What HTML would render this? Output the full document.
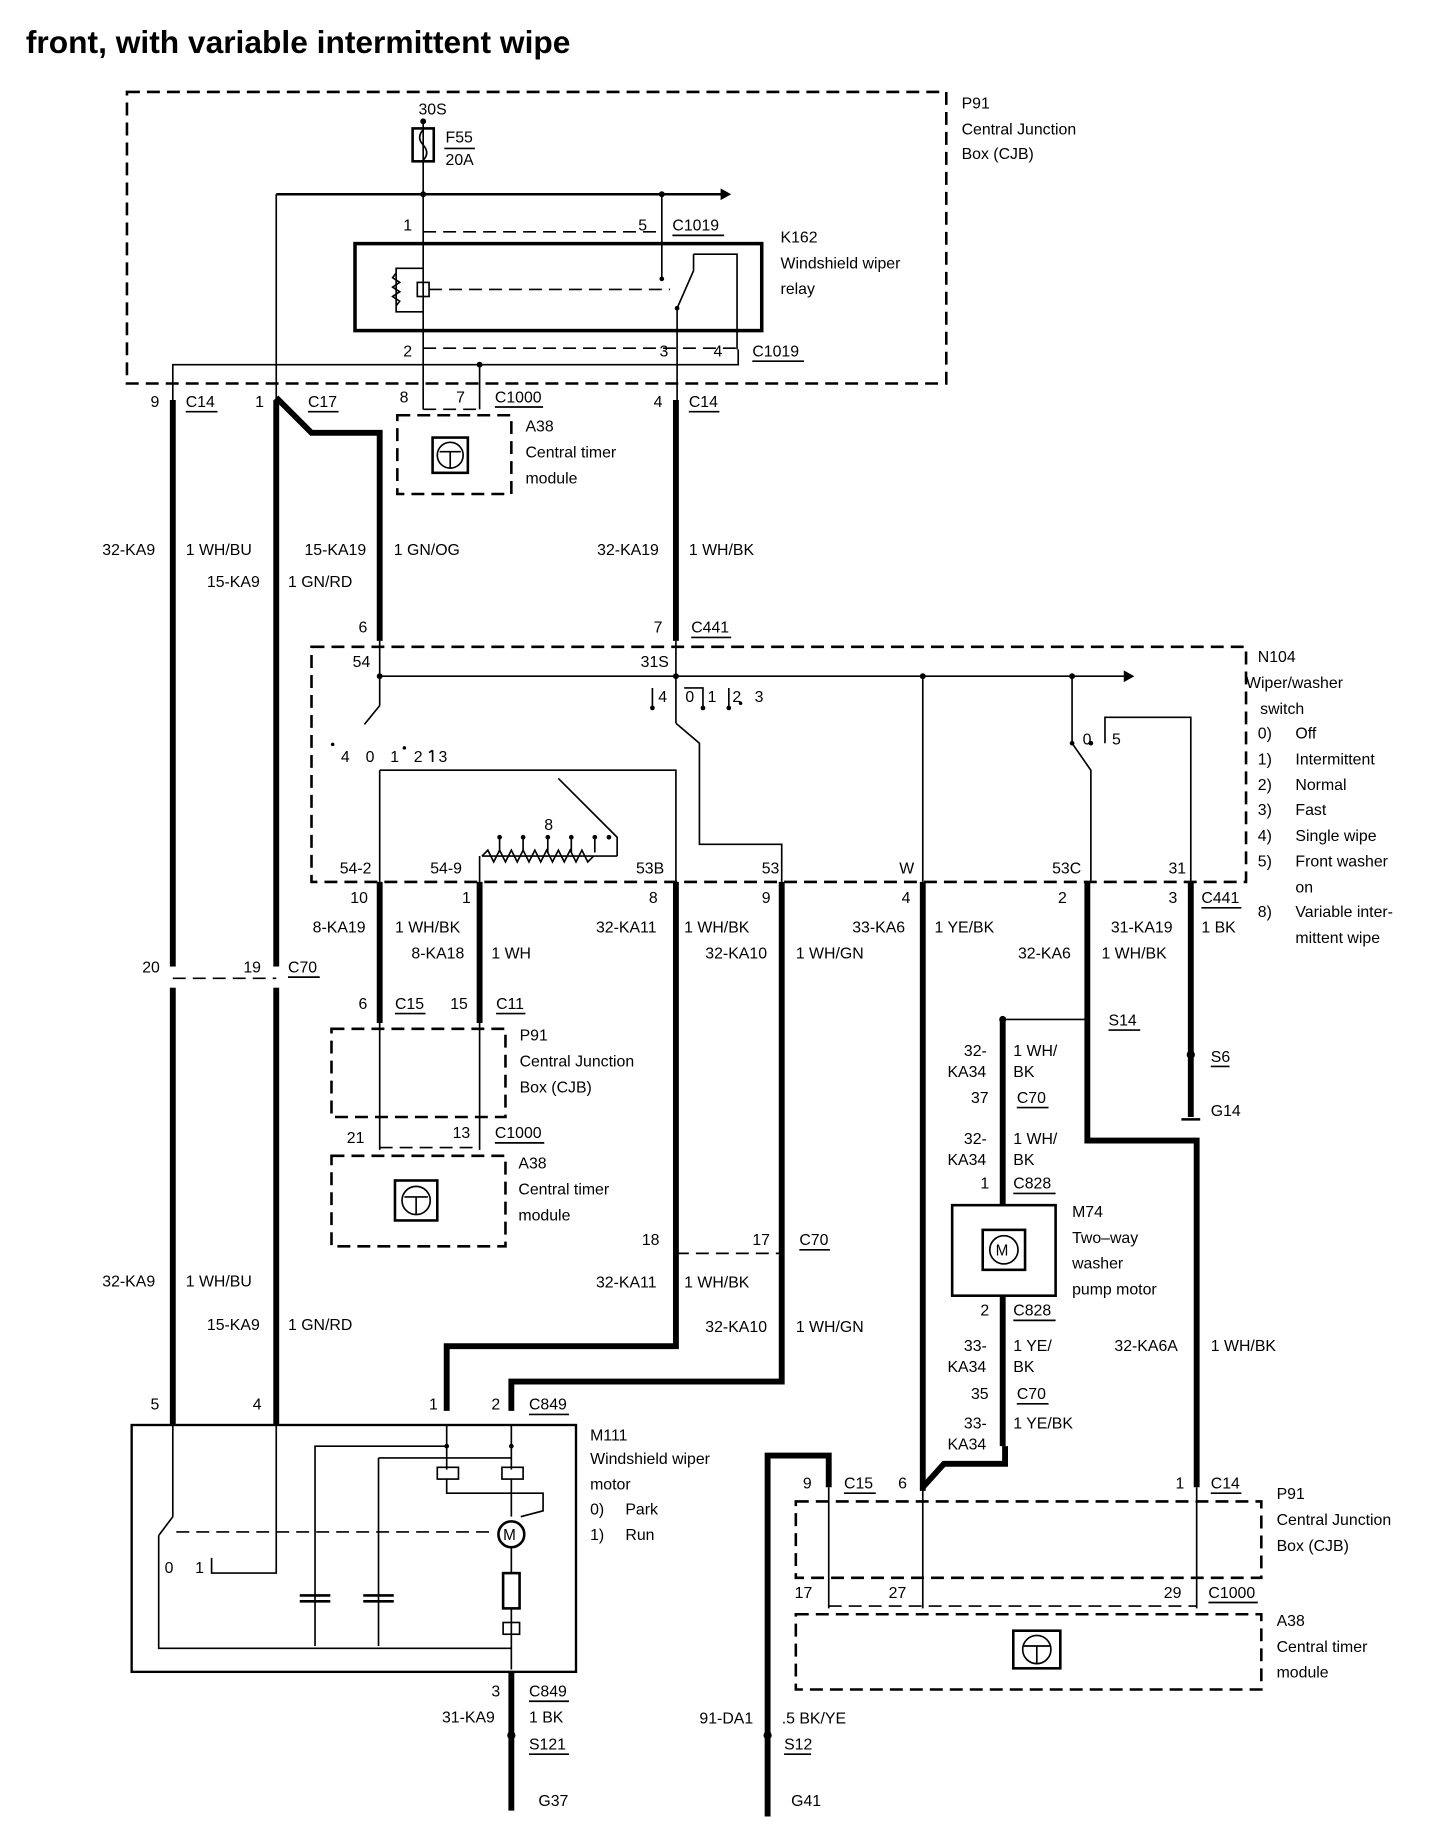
<!DOCTYPE html>
<html><head><meta charset="utf-8"><style>
html,body{margin:0;padding:0;background:#fff}
svg{display:block}
text{font-family:"Liberation Sans",sans-serif;font-size:13.5px;fill:#000}
.t{stroke:#000;stroke-width:1.4;fill:none}
.k{stroke:#000;stroke-width:5;fill:none}
.d{stroke:#000;stroke-width:2.2;fill:none;stroke-dasharray:11,6}
.b{stroke:#000;stroke-width:2.2;fill:none}
</style></head><body>
<svg width="1440" height="1832" viewBox="0 0 1225 1558" xmlns="http://www.w3.org/2000/svg">
<text x="22" y="45" style="font-size:27px;font-weight:bold">front, with variable intermittent wipe</text>

<!-- top CJB -->
<rect x="108" y="78" width="697" height="248" class="d"/>
<text x="818" y="92">P91</text><text x="818" y="114">Central Junction</text><text x="818" y="135">Box (CJB)</text>
<text x="356" y="97">30S</text>
<circle cx="360" cy="103" r="2.5"/>
<rect x="351" y="109" width="18" height="28" class="b"/>
<path d="M360 110 q-6 7 0 13 q6 7 0 13" class="t"/>
<text x="379" y="121">F55</text><line x1="378" y1="126" x2="404" y2="126" class="t"/><text x="379" y="140">20A</text>
<line x1="360" y1="103" x2="360" y2="348" class="t"/>
<line x1="235" y1="165" x2="615" y2="165" class="b"/><path d="M613 160 L622 165 L613 170Z"/>
<circle cx="360" cy="165" r="2.5"/><circle cx="563" cy="165" r="2.5"/>
<line x1="563" y1="165" x2="563" y2="237" class="t"/><circle cx="563" cy="237" r="2"/>
<text x="343" y="196">1</text><text x="543" y="196">5</text><text x="572" y="196">C1019</text><line x1="572" y1="200" x2="616" y2="200" class="t"/>
<line x1="360" y1="197" x2="563" y2="197" class="d" style="stroke-width:1.4"/>
<rect x="302" y="207" width="346" height="74" style="fill:none;stroke:#000;stroke-width:3"/>
<text x="664" y="206">K162</text><text x="664" y="228">Windshield wiper</text><text x="664" y="250">relay</text>
<path d="M360 228 H337 V265 H360" class="t"/><path d="M337 232 l-3 4 l6 4 l-6 4 l6 4 l-6 4 l6 4 l-3 4" class="t"/>
<rect x="355" y="240" width="10" height="12" class="t"/><line x1="365" y1="246" x2="570" y2="246" class="d" style="stroke-width:1.4"/>
<path d="M576 262 L590 230 M590 216 H627 V297" class="t"/><line x1="590" y1="230" x2="590" y2="216" class="t"/>
<line x1="576" y1="262" x2="576" y2="348" class="t"/><circle cx="576" cy="262" r="2"/>
<line x1="360" y1="296" x2="628" y2="296" class="d" style="stroke-width:1.4"/>
<text x="343" y="303">2</text><text x="561" y="303">3</text><text x="607" y="303">4</text><text x="640" y="303">C1019</text><line x1="640" y1="307" x2="684" y2="307" class="t"/>
<path d="M147 348 V310 H628 V297" class="t"/><circle cx="408" cy="310" r="2.5"/><line x1="408" y1="310" x2="408" y2="348" class="t"/>
<line x1="235" y1="165" x2="235" y2="340" class="t"/>
<!-- row C14 -->
<text x="128" y="346">9</text><text x="158" y="346">C14</text><line x1="158" y1="350" x2="185" y2="350" class="t"/>
<text x="217" y="346">1</text><text x="262" y="346">C17</text><line x1="262" y1="350" x2="288" y2="350" class="t"/>
<text x="340" y="342">8</text><text x="388" y="342">7</text><text x="421" y="342">C1000</text><line x1="421" y1="346" x2="462" y2="346" class="t"/>
<text x="556" y="346">4</text><text x="586" y="346">C14</text><line x1="586" y1="350" x2="612" y2="350" class="t"/>
<line x1="360" y1="348" x2="408" y2="348" class="d" style="stroke-width:1.4"/>
<rect x="338" y="353" width="97" height="67" class="d"/>
<rect x="368" y="372" width="30" height="30" class="b"/><circle cx="383" cy="387" r="11" class="t"/><path d="M374 384 h18 M383 384 v14" class="t"/>
<text x="447" y="367">A38</text><text x="447" y="389">Central timer</text><text x="447" y="411">module</text>
<line x1="147" y1="340" x2="147" y2="1212" class="k"/>
<line x1="235" y1="340" x2="235" y2="1212" class="k"/>
<path d="M235 338 L265 368 H323 V545" class="k"/>
<line x1="575" y1="340" x2="575" y2="545" class="k"/>
<text x="87" y="472">32-KA9</text><text x="158" y="472">1 WH/BU</text><text x="176" y="499">15-KA9</text><text x="245" y="499">1 GN/RD</text>
<text x="259" y="472">15-KA19</text><text x="335" y="472">1 GN/OG</text><text x="508" y="472">32-KA19</text><text x="586" y="472">1 WH/BK</text>
<text x="305" y="538">6</text><text x="556" y="538">7</text><text x="588" y="538">C441</text><line x1="588" y1="542" x2="622" y2="542" class="t"/>

<!-- N104 -->
<rect x="265" y="550" width="795" height="200" class="d"/>
<text x="1070" y="563">N104</text><text x="1060" y="585">Wiper/washer</text><text x="1072" y="607">switch</text>
<text x="1070" y="628">0)</text><text x="1102" y="628">Off</text>
<text x="1070" y="650">1)</text><text x="1102" y="650">Intermittent</text>
<text x="1070" y="672">2)</text><text x="1102" y="672">Normal</text>
<text x="1070" y="693">3)</text><text x="1102" y="693">Fast</text>
<text x="1070" y="715">4)</text><text x="1102" y="715">Single wipe</text>
<text x="1070" y="737">5)</text><text x="1102" y="737">Front washer</text>
<text x="1102" y="759">on</text>
<text x="1070" y="780">8)</text><text x="1102" y="780">Variable inter-</text>
<text x="1102" y="802">mittent wipe</text>
<text x="300" y="567">54</text><text x="545" y="567">31S</text>
<line x1="323" y1="545" x2="323" y2="600" class="t"/>
<line x1="323" y1="575" x2="958" y2="575" class="t"/><path d="M956 570 L965 575 L956 580Z"/>
<circle cx="323" cy="575" r="2.5"/><circle cx="575" cy="575" r="2.5"/><circle cx="785" cy="575" r="2.5"/><circle cx="912" cy="575" r="2.5"/>
<line x1="575" y1="545" x2="575" y2="615" class="t"/>
<path d="M555 585 V602 M582 585 H598 V602 M620 585 V602" class="t"/><circle cx="555" cy="602" r="2"/><circle cx="598" cy="602" r="2"/><circle cx="620" cy="602" r="2"/>
<text x="560" y="597">4</text><text x="583" y="597">0</text><text x="602" y="597">1</text><text x="623" y="597">2</text><text x="642" y="597">3</text>
<circle cx="630" cy="598" r="1.5"/>
<path d="M575 615 L595 632 V718 H665 V750" class="t"/>
<path d="M323 600 L310 616" class="t"/>
<circle cx="283" cy="633" r="1.5"/><text x="290" y="648">4</text><text x="311" y="648">0</text><text x="332" y="648">1</text><circle cx="344" cy="636" r="1.5"/><text x="352" y="648">2</text><text x="373" y="648">3</text>
<path d="M368 648 V638" class="t"/>
<path d="M323 655 V750 M323 655 H575 V750" class="t"/><line x1="365" y1="640" x2="368" y2="638" class="t"/>
<path d="M475 662 L525 712 L525 728 M410 728 H525" class="t"/>
<path d="M410 728 l5 -5 l5 10 l5 -10 l5 10 l5 -10 l5 10 l5 -10 l5 10 l5 -10 l5 10 l5 -10 l5 10 l5 -10 l5 10 l5 -10 l5 10 l5 -10 l5 10 l5 -5" class="t"/>
<path d="M425 712 V725 M445 712 V725 M466 712 V725 M486 712 V725 M506 712 V725" class="t"/>
<circle cx="425" cy="712" r="2"/><circle cx="445" cy="712" r="2"/><circle cx="466" cy="712" r="2"/><circle cx="486" cy="712" r="2"/><circle cx="506" cy="712" r="2"/><circle cx="518" cy="712" r="2"/>
<text x="463" y="706">8</text>
<line x1="408" y1="728" x2="408" y2="750" class="t"/>
<line x1="785" y1="575" x2="785" y2="750" class="t"/>
<path d="M912 575 V632 L928 655 V750" class="t"/><circle cx="912" cy="632" r="2"/><circle cx="928" cy="632" r="2"/>
<text x="921" y="633">0</text><text x="946" y="633">5</text>
<path d="M940 632 V610 H1013 V750" class="t"/>
<text x="289" y="743">54-2</text><text x="366" y="743">54-9</text><text x="541" y="743">53B</text><text x="648" y="743">53</text><text x="765" y="743">W</text><text x="895" y="743">53C</text><text x="994" y="743">31</text>

<line x1="323" y1="750" x2="323" y2="870" class="k"/>
<line x1="408" y1="750" x2="408" y2="870" class="k"/>
<path d="M575 750 V1145 H380 V1200" class="k"/>
<path d="M665 750 V1175 H435 V1200" class="k"/>
<path d="M785 750 V1268" class="k"/>
<path d="M855 1230 V1245 H803 L785 1265" class="k"/>
<path d="M925 750 V970 H1018 V1265" class="k"/>
<line x1="1013" y1="750" x2="1013" y2="950" class="k"/>
<text x="298" y="768">10</text><text x="393" y="768">1</text><text x="552" y="768">8</text><text x="648" y="768">9</text><text x="767" y="768">4</text><text x="900" y="768">2</text><text x="994" y="768">3</text><text x="1022" y="768">C441</text><line x1="1022" y1="772" x2="1056" y2="772" class="t"/>
<text x="266" y="793">8-KA19</text><text x="336" y="793">1 WH/BK</text><text x="350" y="815">8-KA18</text><text x="418" y="815">1 WH</text>
<text x="507" y="793">32-KA11</text><text x="582" y="793">1 WH/BK</text><text x="600" y="815">32-KA10</text><text x="677" y="815">1 WH/GN</text>
<text x="725" y="793">33-KA6</text><text x="795" y="793">1 YE/BK</text><text x="945" y="793">31-KA19</text><text x="1022" y="793">1 BK</text>
<text x="866" y="815">32-KA6</text><text x="937" y="815">1 WH/BK</text>
<rect x="140" y="822" width="14" height="18" fill="#fff"/><rect x="228" y="822" width="14" height="18" fill="#fff"/>
<text x="121" y="827">20</text><text x="207" y="827">19</text><text x="245" y="827">C70</text><line x1="245" y1="831" x2="272" y2="831" class="t"/>
<line x1="147" y1="832" x2="235" y2="832" class="d" style="stroke-width:1.4"/>
<text x="305" y="858">6</text><text x="336" y="858">C15</text><line x1="336" y1="862" x2="362" y2="862" class="t"/><text x="383" y="858">15</text><text x="422" y="858">C11</text><line x1="422" y1="862" x2="447" y2="862" class="t"/>
<rect x="282" y="875" width="148" height="75" class="d"/>
<line x1="323" y1="870" x2="323" y2="978" class="t"/><line x1="408" y1="870" x2="408" y2="978" class="t"/>
<text x="442" y="885">P91</text><text x="442" y="907">Central Junction</text><text x="442" y="929">Box (CJB)</text>
<text x="295" y="972">21</text><text x="385" y="968">13</text><text x="421" y="968">C1000</text><line x1="421" y1="972" x2="463" y2="972" class="t"/>
<line x1="323" y1="976" x2="408" y2="976" class="d" style="stroke-width:1.4"/>
<rect x="282" y="983" width="148" height="77" class="d"/>
<rect x="336" y="1004" width="36" height="34" class="b"/><circle cx="354" cy="1021" r="12" class="t"/><path d="M344 1018 h20 M354 1018 v15" class="t"/>
<text x="441" y="994">A38</text><text x="441" y="1016">Central timer</text><text x="441" y="1038">module</text>
<!-- washer -->
<line x1="853" y1="867" x2="925" y2="867" class="t"/><circle cx="853" cy="867" r="3"/>
<text x="943" y="872">S14</text><line x1="943" y1="876" x2="970" y2="876" class="t"/>
<line x1="853" y1="867" x2="853" y2="1025" class="k"/>
<text x="820" y="898">32-</text><text x="806" y="916">KA34</text><text x="862" y="898">1 WH/</text><text x="862" y="916">BK</text>
<text x="826" y="938">37</text><text x="865" y="938">C70</text><line x1="865" y1="942" x2="892" y2="942" class="t"/>
<text x="820" y="973">32-</text><text x="806" y="991">KA34</text><text x="862" y="973">1 WH/</text><text x="862" y="991">BK</text>
<text x="834" y="1011">1</text><text x="862" y="1011">C828</text><line x1="862" y1="1015" x2="898" y2="1015" class="t"/>
<rect x="810" y="1025" width="88" height="77" class="b"/>
<rect x="836" y="1046" width="36" height="34" class="b"/><circle cx="854" cy="1063" r="12" class="t"/><text x="847" y="1068" style="font-size:13px">M</text>
<line x1="853" y1="1102" x2="853" y2="1230" class="k"/>
<text x="912" y="1035">M74</text><text x="912" y="1057">Two–way</text><text x="912" y="1079">washer</text><text x="912" y="1101">pump motor</text>
<text x="834" y="1119">2</text><text x="862" y="1119">C828</text><line x1="862" y1="1123" x2="898" y2="1123" class="t"/>
<text x="820" y="1149">33-</text><text x="806" y="1167">KA34</text><text x="862" y="1149">1 YE/</text><text x="862" y="1167">BK</text>
<text x="826" y="1190">35</text><text x="865" y="1190">C70</text><line x1="865" y1="1194" x2="892" y2="1194" class="t"/>
<text x="820" y="1215">33-</text><text x="806" y="1233">KA34</text><text x="862" y="1215">1 YE/BK</text>
<text x="948" y="1149">32-KA6A</text><text x="1030" y="1149">1 WH/BK</text>
<text x="1030" y="903">S6</text><line x1="1030" y1="907" x2="1046" y2="907" class="t"/>
<text x="1030" y="949">G14</text><line x1="1005" y1="952" x2="1021" y2="952" class="b"/>
<!-- mid labels -->
<text x="87" y="1094">32-KA9</text><text x="158" y="1094">1 WH/BU</text><text x="176" y="1131">15-KA9</text><text x="245" y="1131">1 GN/RD</text>
<text x="546" y="1059">18</text><text x="640" y="1059">17</text><text x="680" y="1059">C70</text><line x1="680" y1="1063" x2="706" y2="1063" class="t"/>
<line x1="575" y1="1066" x2="665" y2="1066" class="d" style="stroke-width:1.4"/>
<text x="507" y="1095">32-KA11</text><text x="582" y="1095">1 WH/BK</text><text x="600" y="1133">32-KA10</text><text x="677" y="1133">1 WH/GN</text>
<text x="128" y="1199">5</text><text x="215" y="1199">4</text><text x="365" y="1199">1</text><text x="418" y="1199">2</text><text x="450" y="1199">C849</text><line x1="450" y1="1203" x2="484" y2="1203" class="t"/>
<!-- M111 -->
<rect x="112" y="1212" width="378" height="210" style="fill:none;stroke:#000;stroke-width:2"/>
<text x="502" y="1225">M111</text><text x="502" y="1245">Windshield wiper</text><text x="502" y="1267">motor</text>
<text x="502" y="1288">0)</text><text x="532" y="1288">Park</text><text x="502" y="1310">1)</text><text x="532" y="1310">Run</text>
<path d="M147 1212 V1290 L135 1306 M135 1306 V1402 H435" class="t"/>
<path d="M235 1212 V1338 H180 V1325" class="t"/>
<text x="140" y="1338">0</text><text x="166" y="1338">1</text>
<line x1="150" y1="1303" x2="420" y2="1303" class="d" style="stroke-width:1.4"/>
<path d="M380 1212 V1250 M435 1212 V1250" class="t"/><circle cx="380" cy="1230" r="2"/><circle cx="435" cy="1230" r="2"/>
<path d="M380 1230 H268 V1400 M322 1240 H435" class="t"/>
<path d="M322 1240 V1400" class="t"/>
<rect x="372" y="1248" width="18" height="10" class="t"/><rect x="427" y="1248" width="18" height="10" class="t"/>
<path d="M380 1258 V1270 H462 V1285 L443 1290 M435 1258 V1290" class="t"/>
<circle cx="435" cy="1305" r="11" class="b"/><text x="428" y="1310" style="font-size:13px">M</text>
<path d="M255 1357 h26 M255 1362 h26 M309 1357 h26 M309 1362 h26" class="b"/>
<path d="M435 1316 V1338 M435 1368 V1420" class="t"/><rect x="428" y="1338" width="14" height="30" class="b"/><rect x="428" y="1380" width="14" height="10" class="t"/>
<line x1="435" y1="1422" x2="435" y2="1540" class="k"/>
<text x="418" y="1443">3</text><text x="450" y="1443">C849</text><line x1="450" y1="1447" x2="484" y2="1447" class="t"/>
<text x="376" y="1465">31-KA9</text><text x="450" y="1465">1 BK</text>
<text x="450" y="1488">S121</text><line x1="450" y1="1492" x2="484" y2="1492" class="t"/>
<text x="458" y="1536">G37</text>
<!-- bottom right -->
<path d="M705 1265 V1238 H653 V1545" class="k"/>
<line x1="705" y1="1265" x2="705" y2="1368" class="t"/><line x1="785" y1="1265" x2="785" y2="1368" class="t"/><line x1="1018" y1="1265" x2="1018" y2="1368" class="t"/>
<text x="683" y="1266">9</text><text x="718" y="1266">C15</text><line x1="718" y1="1270" x2="745" y2="1270" class="t"/>
<text x="764" y="1266">6</text><text x="1000" y="1266">1</text><text x="1030" y="1266">C14</text><line x1="1030" y1="1270" x2="1056" y2="1270" class="t"/>
<rect x="677" y="1277" width="396" height="65" class="d"/>
<text x="1086" y="1275">P91</text><text x="1086" y="1297">Central Junction</text><text x="1086" y="1319">Box (CJB)</text>
<text x="676" y="1359">17</text><text x="756" y="1359">27</text><text x="990" y="1359">29</text><text x="1028" y="1359">C1000</text><line x1="1028" y1="1363" x2="1070" y2="1363" class="t"/>
<line x1="705" y1="1366" x2="1018" y2="1366" class="d" style="stroke-width:1.4"/>
<rect x="677" y="1373" width="396" height="64" class="d"/>
<rect x="862" y="1387" width="40" height="32" class="b"/><circle cx="882" cy="1403" r="12" class="t"/><path d="M871 1400 h22 M882 1400 v15" class="t"/>
<text x="1086" y="1383">A38</text><text x="1086" y="1405">Central timer</text><text x="1086" y="1427">module</text>
<text x="595" y="1466">91-DA1</text><text x="665" y="1466">.5 BK/YE</text>
<text x="667" y="1488">S12</text><line x1="667" y1="1492" x2="690" y2="1492" class="t"/>
<text x="673" y="1536">G41</text>
<!-- splice dots -->
<circle cx="435" cy="1476" r="3.5"/><circle cx="653" cy="1476" r="3.5"/><circle cx="1013" cy="897" r="3.5"/>
</svg>
</body></html>
